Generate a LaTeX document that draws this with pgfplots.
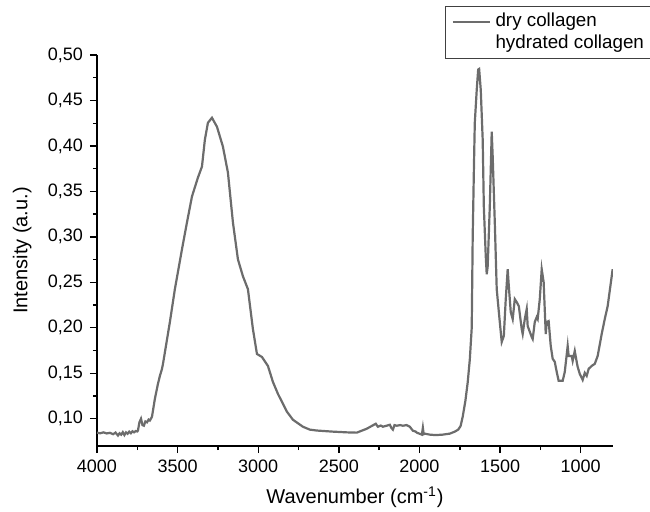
\documentclass[border=0pt]{standalone}
\usepackage{fontspec}
\setmainfont{Liberation Sans}
\usepackage{pgfplots}
\pgfplotsset{compat=1.18}
\definecolor{curvegray}{RGB}{108,108,108}
\begin{document}
\begin{tikzpicture}
\begin{axis}[
  scale only axis,
  width=258pt, height=195.5pt,
  x dir=reverse,
  xmin=800, xmax=4000,
  ymin=0.07, ymax=0.5,
  axis x line*=bottom, axis y line*=left,
  axis line style={line width=0.8pt},
  xtick={1000,1500,2000,2500,3000,3500,4000},
  ytick={0.1,0.15,0.2,0.25,0.3,0.35,0.4,0.45,0.5},
  minor x tick num=1, minor y tick num=1,
  tick align=outside,
  major tick length=3.5pt, minor tick length=2pt,
  tick style={black, line width=0.7pt},
  xticklabel style={/pgf/number format/.cd, 1000 sep={}, assume math mode=true},
  yticklabel style={/pgf/number format/.cd, fixed, fixed zerofill, precision=2, use comma, assume math mode=true},
  ticklabel style={font=\fontsize{9}{10}\selectfont},
  label style={font=\fontsize{10}{12}\selectfont},
  xlabel={Wavenumber (cm\textsuperscript{-1})},
  ylabel={Intensity (a.u.)},
  ylabel style={at={(axis description cs:-0.145,0.5)}, anchor=center},
  legend style={at={(0.675,0.99)}, anchor=south west, draw=black!75, line width=0.5pt,
    font=\fontsize{9.4}{11}\selectfont, nodes={inner ysep=1.3pt}},
  legend image code/.code={\draw[#1] (0cm,0cm) -- (0.66cm,0cm);},
  legend cell align=left,
]
\addplot[curvegray, line width=1.1pt] coordinates {
(4000,0.0847) (3980,0.0840) (3960,0.0850) (3940,0.0838) (3920,0.0845) (3900,0.0830)
(3885,0.0848) (3870,0.0815) (3860,0.0840) (3850,0.0825) (3840,0.0852) (3830,0.0820)
(3820,0.0850) (3810,0.0835) (3800,0.0858) (3790,0.0840) (3780,0.0862) (3770,0.0850)
(3760,0.0865) (3750,0.0860) (3746,0.0870) (3737,0.0960) (3727,0.1000) (3718,0.0930)
(3709,0.0923) (3700,0.0970) (3690,0.0960) (3680,0.0990) (3672,0.0980) (3659,0.1022)
(3641,0.1219) (3622,0.1384) (3610,0.1470) (3597,0.1548) (3591,0.1600) (3548,0.2063)
(3517,0.2425) (3473,0.2863) (3442,0.3159) (3411,0.3444) (3374,0.3652) (3349,0.3773)
(3331,0.4068) (3312,0.4255) (3287,0.4310) (3256,0.4211) (3219,0.3992) (3188,0.3707)
(3157,0.3159) (3126,0.2753) (3095,0.2567) (3064,0.2425) (3033,0.1986) (3008,0.1712)
(2977,0.1679) (2940,0.1581) (2909,0.1405) (2878,0.1274) (2853,0.1186) (2822,0.1077)
(2785,0.0989) (2723,0.0912) (2680,0.0880) (2636,0.0870) (2537,0.0858) (2450,0.0850)
(2389,0.0847) (2327,0.0890) (2271,0.0945) (2258,0.0912) (2240,0.0925) (2227,0.0912)
(2200,0.0925) (2184,0.0934) (2175,0.0900) (2165,0.0880) (2155,0.0930) (2141,0.0923)
(2120,0.0930) (2103,0.0923) (2080,0.0930) (2060,0.0912) (2041,0.0868) (2025,0.0860)
(2017,0.0847) (1992,0.0830) (1985,0.0825) (1979,0.0900) (1974,0.0830) (1967,0.0836)
(1936,0.0825) (1900,0.0820) (1856,0.0825) (1812,0.0836) (1781,0.0858) (1760,0.0880)
(1745,0.0920) (1732,0.1022) (1715,0.1200) (1701,0.1400) (1688,0.1650) (1676,0.2000)
(1670,0.3000) (1662,0.3800) (1657,0.4255) (1645,0.4616) (1636,0.4840) (1630,0.4847)
(1620,0.4616) (1608,0.4068) (1601,0.3334) (1589,0.2786) (1583,0.2589) (1577,0.2677)
(1564,0.3334) (1552,0.4156) (1546,0.3882) (1533,0.3159) (1521,0.2425) (1502,0.2063)
(1490,0.1844) (1477,0.1910) (1465,0.2315) (1453,0.2644) (1446,0.2458) (1434,0.2173)
(1422,0.2096) (1409,0.2315) (1397,0.2282) (1384,0.2238) (1366,0.1986) (1360,0.1932)
(1347,0.2096) (1335,0.2206) (1329,0.2019) (1304,0.1899) (1298,0.1877) (1285,0.2063)
(1273,0.2118) (1267,0.2096) (1254,0.2315) (1242,0.2644) (1230,0.2501) (1217,0.1932)
(1211,0.2063) (1199,0.2074) (1186,0.1800) (1174,0.1660) (1161,0.1625) (1149,0.1515)
(1137,0.1417) (1112,0.1417) (1099,0.1515) (1081,0.1800) (1075,0.1690) (1056,0.1690)
(1050,0.1636) (1037,0.1745) (1025,0.1625) (1019,0.1570) (1006,0.1493) (988,0.1427)
(975,0.1504) (963,0.1471) (951,0.1548) (932,0.1581) (913,0.1603) (895,0.1690)
(870,0.1932) (851,0.2096) (833,0.2238) (802,0.2644)
};
\addlegendentry{dry collagen}
\addlegendimage{white, line width=1.1pt}
\addlegendentry{hydrated collagen}
\end{axis}
\pgfresetboundingbox
\path[use as bounding box] (-48.5pt,-32.5pt) rectangle (276.5pt,223pt);
\end{tikzpicture}
\end{document}
